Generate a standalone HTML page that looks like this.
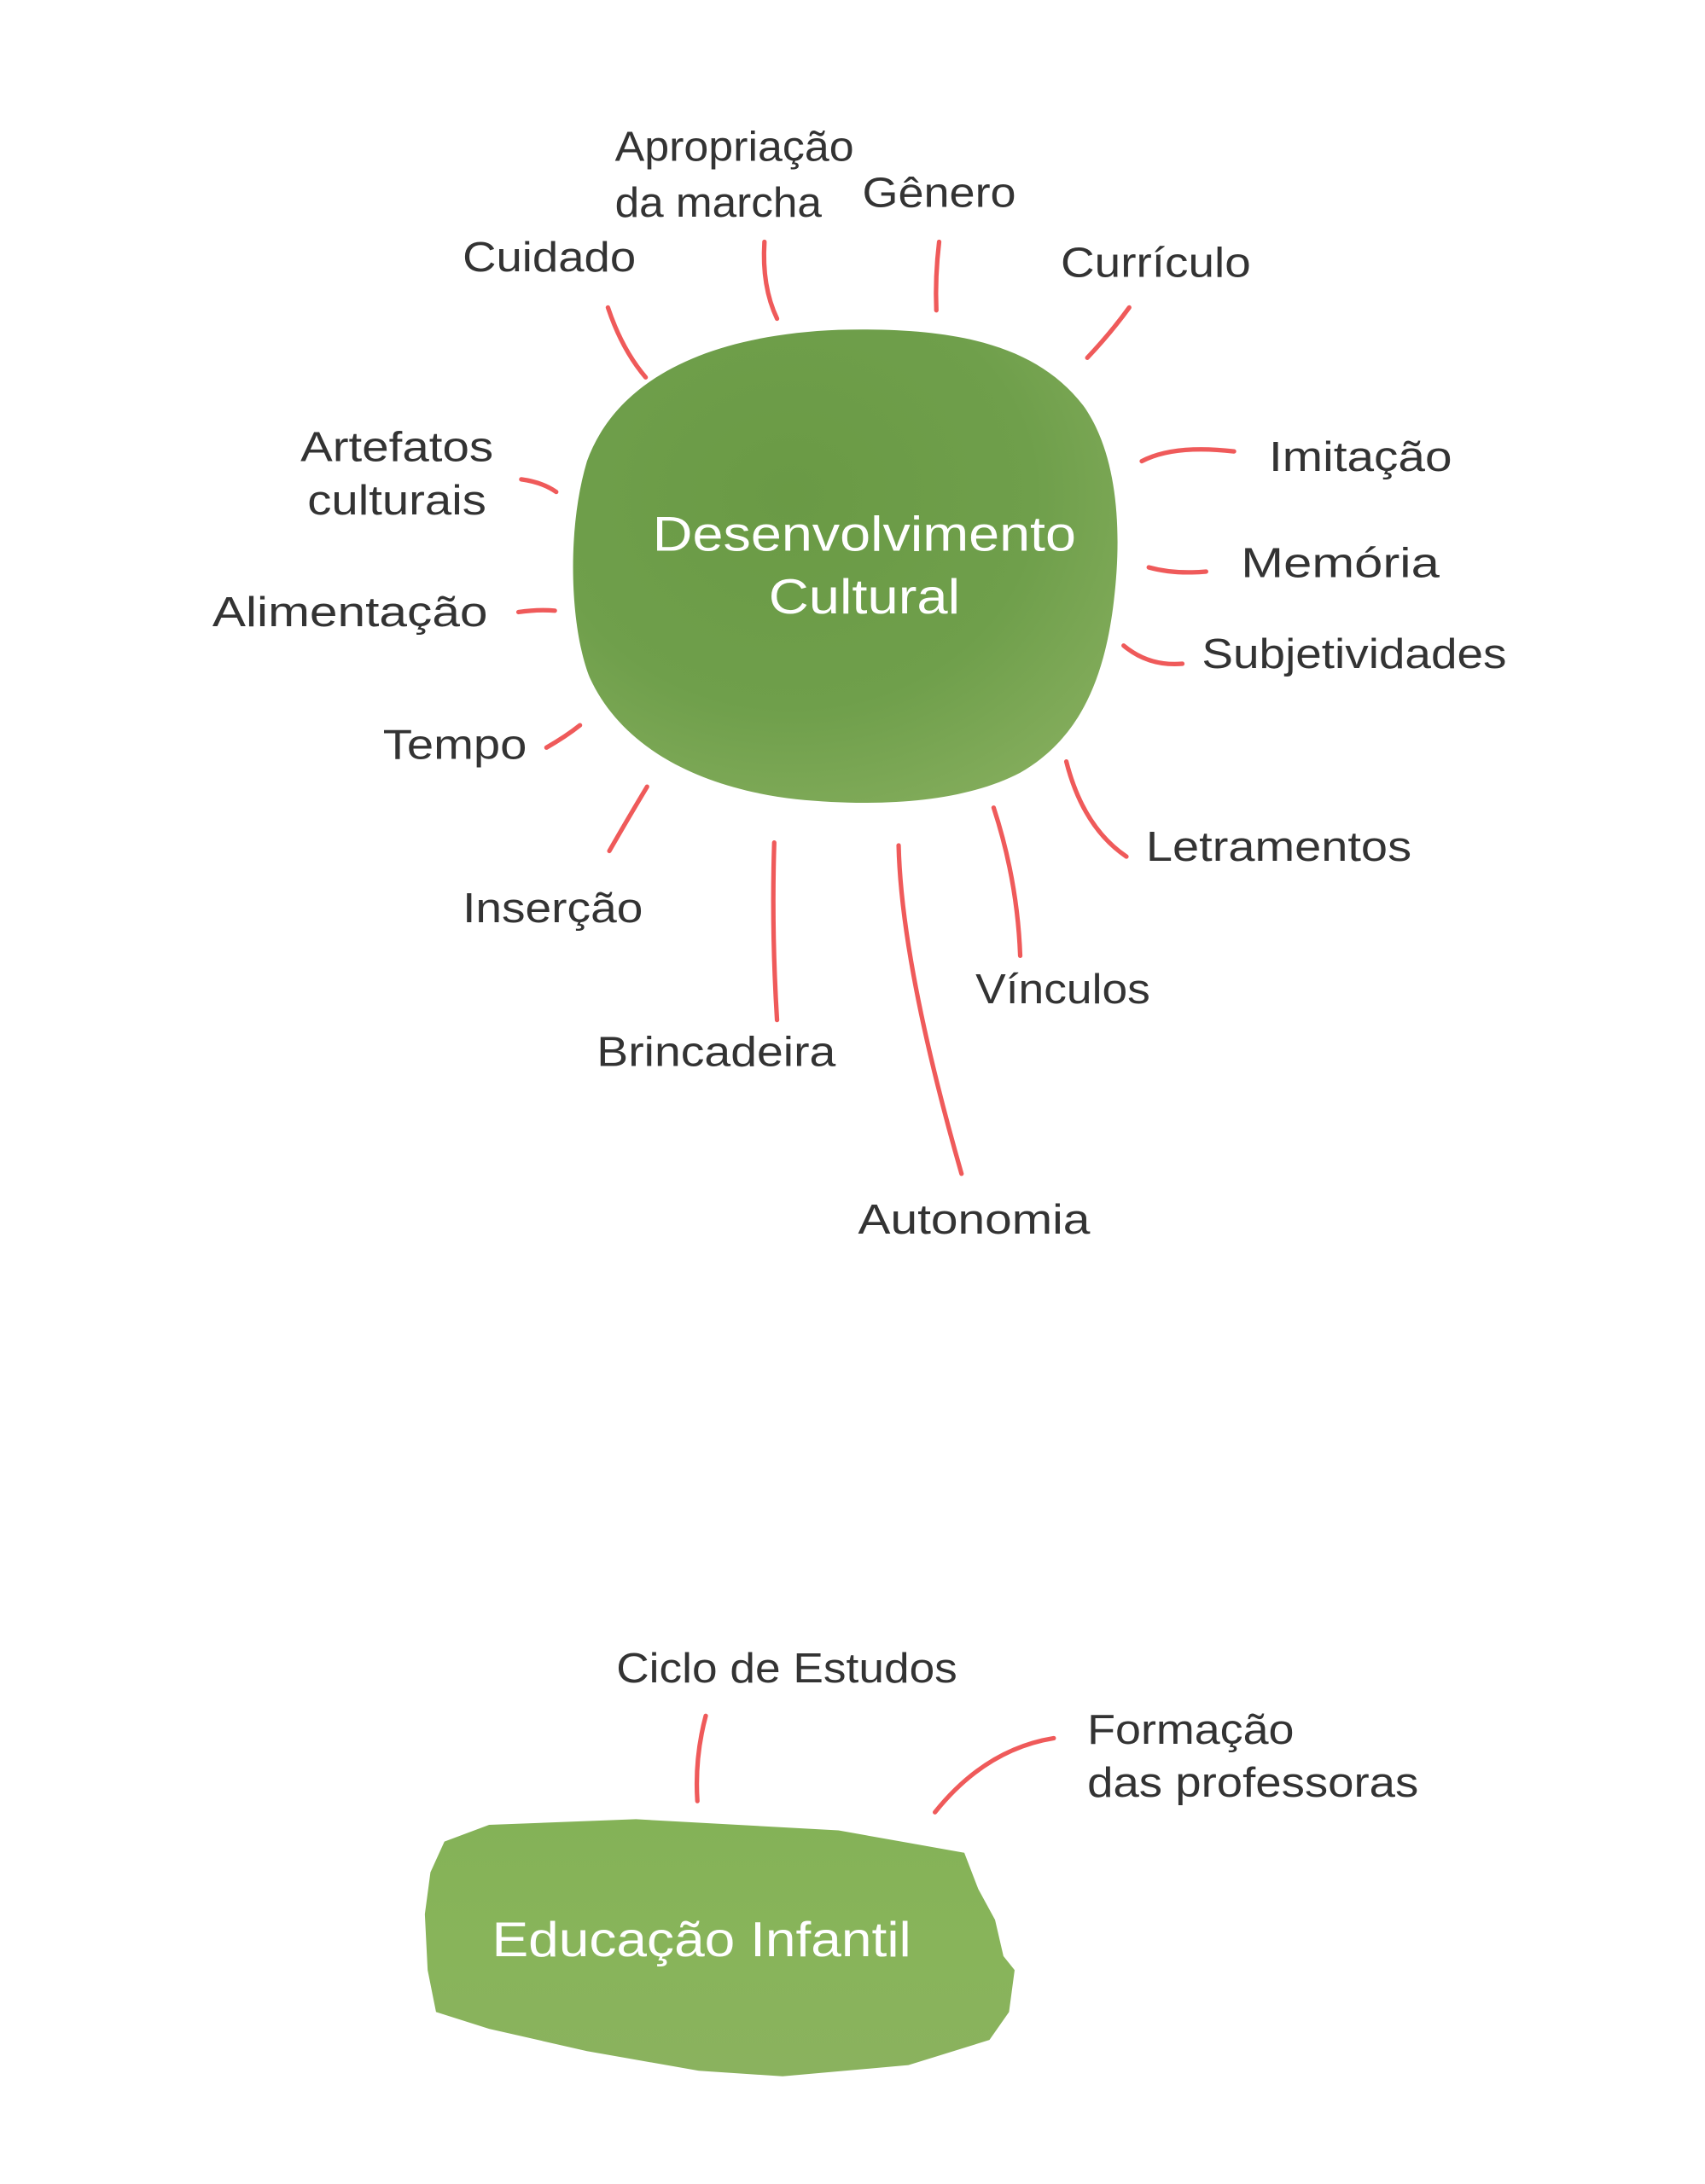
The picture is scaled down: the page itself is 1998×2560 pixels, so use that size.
<!DOCTYPE html>
<html><head><meta charset="utf-8"><style>html,body{margin:0;padding:0;background:#fff}svg{display:block}</style></head>
<body>
<svg width="1998" height="2560" viewBox="0 0 1220 1563" xmlns="http://www.w3.org/2000/svg">
<defs>
<radialGradient id="g1" cx="0.4" cy="0.35" r="0.75">
<stop offset="0" stop-color="#6a9a45"/><stop offset="0.6" stop-color="#6f9f4b"/><stop offset="1" stop-color="#84ad5c"/>
</radialGradient>
<linearGradient id="g2" x1="0" y1="0" x2="0" y2="1">
<stop offset="0" stop-color="#84b257"/><stop offset="0.5" stop-color="#88b45a"/><stop offset="1" stop-color="#8ab25e"/>
</linearGradient>
</defs>
<path d="M420 330 C440 275 500 240 600 236 C680 234 740 245 775 290 C800 325 803 380 797 430 C790 490 770 530 730 553 C690 574 630 578 570 572 C500 564 445 535 422 485 C408 450 405 380 420 330 Z" fill="url(#g1)"/>
<path d="M318 1318 L350 1306 L455 1302 L600 1310 L690 1326 L700 1352 L712 1374 L718 1400 L726 1410 L722 1440 L708 1460 L650 1478 L560 1486 L500 1482 L420 1468 L350 1452 L312 1440 L306 1410 L304 1370 L308 1340 Z" fill="url(#g2)"/>
<g fill="none" stroke="#ef5a5a" stroke-width="3.2" stroke-linecap="round">
<path d="M435 220 Q445 250 462 270"/>
<path d="M547 173 Q545 205 556 228"/>
<path d="M672 173 Q669 198 670 222"/>
<path d="M808 220 Q795 238 778 256"/>
<path d="M373 343 Q388 345 398 352"/>
<path d="M883 323 Q840 318 817 330"/>
<path d="M822 406 Q840 411 863 409"/>
<path d="M371 438 Q385 436 397 437"/>
<path d="M804 462 Q822 477 846 475"/>
<path d="M391 535 Q405 527 415 519"/>
<path d="M463 563 Q448 588 436 609"/>
<path d="M554 603 Q552 665 556 730"/>
<path d="M643 605 Q645 690 688 840"/>
<path d="M711 578 Q728 630 730 684"/>
<path d="M763 545 Q775 592 806 613"/>
<path d="M505 1228 Q497 1258 499 1289"/>
<path d="M754 1244 Q705 1252 669 1297"/>
</g>
<g font-family="Liberation Sans, DejaVu Sans, sans-serif" font-size="30" fill="#333">
<text x="440" y="115" textLength="171" lengthAdjust="spacingAndGlyphs">Apropriação</text>
<text x="440" y="155" textLength="148" lengthAdjust="spacingAndGlyphs">da marcha</text>
<text x="617" y="148" textLength="110" lengthAdjust="spacingAndGlyphs">Gênero</text>
<text x="331" y="194" textLength="124" lengthAdjust="spacingAndGlyphs">Cuidado</text>
<text x="759" y="198" textLength="136" lengthAdjust="spacingAndGlyphs">Currículo</text>
<text x="215" y="330" textLength="138" lengthAdjust="spacingAndGlyphs">Artefatos</text>
<text x="220" y="368" textLength="128" lengthAdjust="spacingAndGlyphs">culturais</text>
<text x="908" y="337" textLength="131" lengthAdjust="spacingAndGlyphs">Imitação</text>
<text x="888" y="413" textLength="142" lengthAdjust="spacingAndGlyphs">Memória</text>
<text x="152" y="448" textLength="197" lengthAdjust="spacingAndGlyphs">Alimentação</text>
<text x="860" y="478" textLength="218" lengthAdjust="spacingAndGlyphs">Subjetividades</text>
<text x="274" y="543" textLength="103" lengthAdjust="spacingAndGlyphs">Tempo</text>
<text x="820" y="616" textLength="190" lengthAdjust="spacingAndGlyphs">Letramentos</text>
<text x="331" y="660" textLength="129" lengthAdjust="spacingAndGlyphs">Inserção</text>
<text x="698" y="718" textLength="125" lengthAdjust="spacingAndGlyphs">Vínculos</text>
<text x="427" y="763" textLength="171" lengthAdjust="spacingAndGlyphs">Brincadeira</text>
<text x="614" y="883" textLength="166" lengthAdjust="spacingAndGlyphs">Autonomia</text>
<text x="441" y="1204" textLength="244" lengthAdjust="spacingAndGlyphs">Ciclo de Estudos</text>
<text x="778" y="1248" textLength="148" lengthAdjust="spacingAndGlyphs">Formação</text>
<text x="778" y="1286" textLength="237" lengthAdjust="spacingAndGlyphs">das professoras</text>
</g>
<g font-family="Liberation Sans, DejaVu Sans, sans-serif" font-size="35" fill="#fff">
<text x="467" y="394" textLength="303" lengthAdjust="spacingAndGlyphs">Desenvolvimento</text>
<text x="550" y="439" textLength="137" lengthAdjust="spacingAndGlyphs">Cultural</text>
<text x="352" y="1400" textLength="300" lengthAdjust="spacingAndGlyphs">Educação Infantil</text>
</g>
</svg>
</body></html>
